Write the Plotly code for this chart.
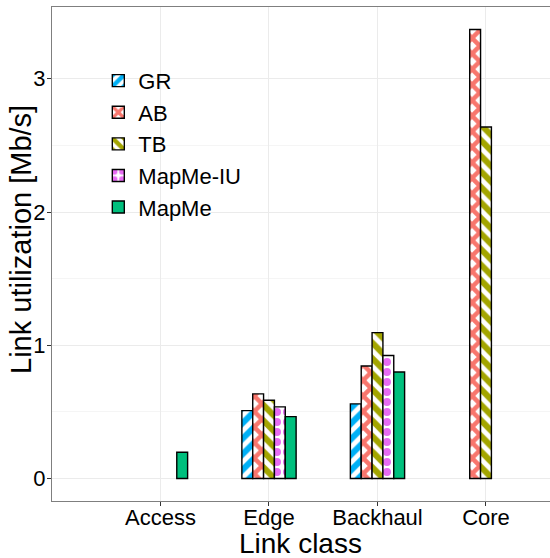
import plotly.graph_objects as go

categories = ["Access", "Edge", "Backhaul", "Core"]
series_names = ["GR", "AB", "TB", "MapMe-IU", "MapMe"]
gr_values = [None, 0.51, 0.56, None]
ab_values = [None, 0.635, 0.845, 3.37]
tb_values = [None, 0.587, 1.095, 2.638]
mapme_iu_values = [None, 0.538, 0.923, None]
mapme_values = [0.197, 0.465, 0.80, None]
y_tick_values = [0, 1, 2, 3]
y_tick_labels = ["0", "1", "2", "3"]

all_values = [gr_values, ab_values, tb_values, mapme_iu_values, mapme_values]
colors = ["#00B0F6", "#F8766D", "#A3A500", "#E76BF3", "#00BF7D"]
patterns = [
    dict(shape="/", fgcolor="#00B0F6", bgcolor="white", size=11, solidity=0.55, fillmode="replace", fgopacity=1),
    dict(shape="x", fgcolor="#F8766D", bgcolor="white", size=11, solidity=0.65, fillmode="replace", fgopacity=1),
    dict(shape="\\", fgcolor="#A3A500", bgcolor="white", size=11, solidity=0.55, fillmode="replace", fgopacity=1),
    dict(shape=".", fgcolor="#E76BF3", bgcolor="white", size=10, solidity=0.5, fillmode="replace", fgopacity=1),
    None,
]

FONT = "Liberation Sans, Arial, Helvetica, sans-serif"

fig = go.Figure()
for name, vals, col, pat in zip(series_names, all_values, colors, patterns):
    marker = dict(color=col if pat is None else "white", line=dict(color="black", width=1.4))
    if pat is not None:
        marker["pattern"] = pat
    fig.add_trace(go.Bar(name=name, x=categories, y=vals, marker=marker))

fig.update_layout(
    width=550, height=558,
    barmode="group", bargap=0.5, bargroupgap=0,
    paper_bgcolor="white", plot_bgcolor="white",
    margin=dict(l=52, r=0, t=7, b=57, autoexpand=False),
    font=dict(family=FONT, color="black"),
    legend=dict(
        x=0.093, y=0.893, xanchor="left", yanchor="top",
        font=dict(size=22, family=FONT, color="black"),
        bgcolor="rgba(255,255,255,0)", tracegroupgap=0,
    ),
    showlegend=True,
    annotations=[
        dict(text="Link class", xref="paper", yref="paper", x=(300 - 52) / 498, y=-(543 - 501) / 494,
             xanchor="center", yanchor="middle", showarrow=False,
             font=dict(size=28, family=FONT, color="black")),
        dict(text="Link utilization [Mb/s]", xref="paper", yref="paper", x=-(52 - 21) / 498,
             y=(501 - 240) / 494, xanchor="center", yanchor="middle", textangle=-90, showarrow=False,
             font=dict(size=29, family=FONT, color="black")),
    ],
)
fig.update_xaxes(
    type="category", range=[-1.0, 3.59], automargin=False,
    showgrid=True, gridcolor="#EBEBEB", gridwidth=1.2,
    showline=True, linecolor="#7F7F7F", linewidth=1.2, mirror=True,
    ticks="outside", ticklen=4, tickcolor="#333333",
    tickfont=dict(size=22, family=FONT, color="black"),
    ticklabelstandoff=-8,
    zeroline=False,
)
fig.update_yaxes(
    range=[-0.1685, 3.5385], automargin=False,
    tickvals=y_tick_values, ticktext=y_tick_labels,
    showgrid=True, gridcolor="#EBEBEB", gridwidth=1.2,
    minor=dict(tickvals=[0.5, 1.5, 2.5], showgrid=True, gridcolor="#F5F5F5", gridwidth=0.8),
    showline=True, linecolor="#7F7F7F", linewidth=1.2, mirror=False,
    ticks="outside", ticklen=4, tickcolor="#333333",
    tickfont=dict(size=22, family=FONT, color="black"),
    ticklabelstandoff=-3,
    zeroline=False,
)

fig.write_html("out.html", config={"displayModeBar": False},
               post_script="document.body.style.margin='0';document.body.style.padding='0';")
